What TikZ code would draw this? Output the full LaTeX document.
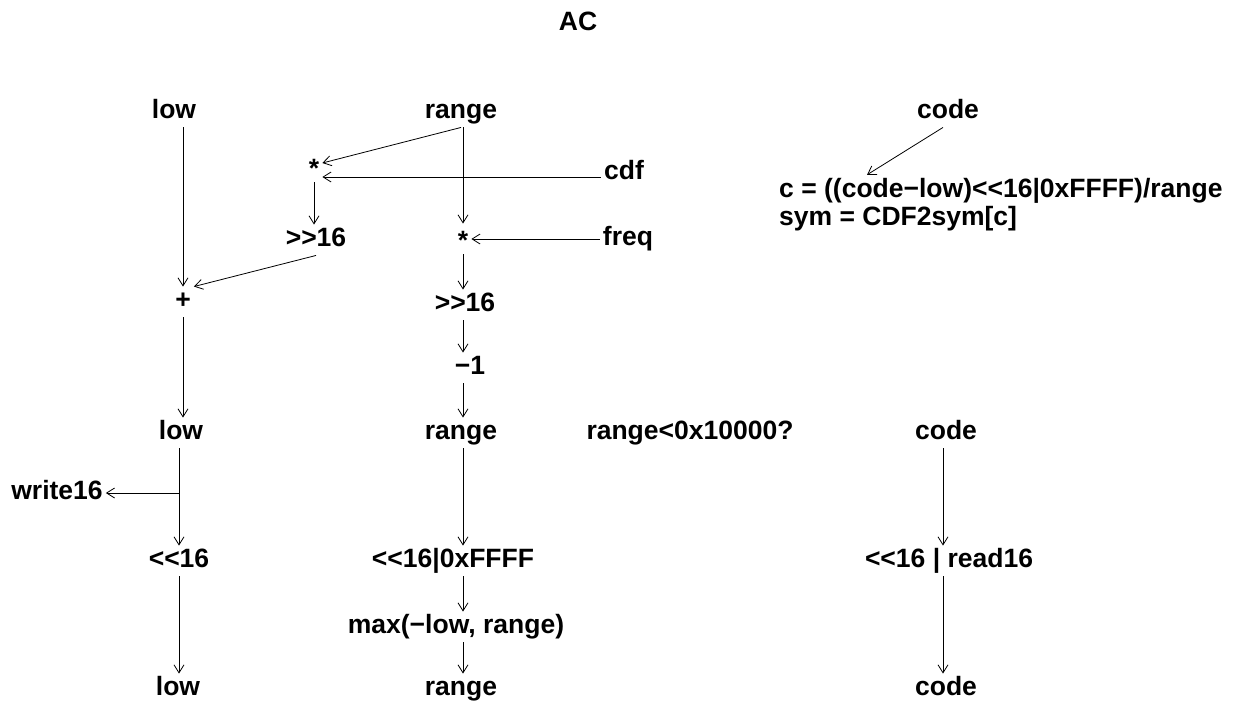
\documentclass[tikz,border=0pt]{standalone}
\usepackage{fontspec}
\setmainfont{Liberation Sans}
\usetikzlibrary{positioning}
\usetikzlibrary{calc}
\usetikzlibrary{arrows.meta}

\begin{document}
\begin{tikzpicture}[x=1pt, y=-1pt,
        lbl/.style={text centered, font=\fontsize{26.5}{30}\selectfont\bfseries, inner sep=3pt, text height=19pt, text depth=5.5pt},
        arr/.style={-{Straight Barb[length=8pt,width=10pt]}, line width=0.8}]
        \useasboundingbox (0,0) rectangle (1236,721);

        % nodes %
        \node[lbl] (ac) at (578,24) {AC};
        \node[lbl] (low1) at (174,112) {low};
        \node[lbl] (range1) at (461,112) {range};
        \node[lbl] (code1) at (948,112) {code};
        \node[lbl] (st1) at (314,167) {\raisebox{-0.13em}{*}};
        \node[lbl] (cdf) at (624,173) {cdf};
        \node[lbl, anchor=base west] (form1) at (776,197) {c = ((code−low)<\kern0pt<16|0xFFFF)/range};
        \node[lbl, anchor=base west] (form2) at (776,225) {sym = CDF2sym[c]};
        \node[lbl] (sh1) at (316,240) {>\kern0pt>16};
        \node[lbl] (st2) at (463,239) {\raisebox{-0.13em}{*}};
        \node[lbl] (freq) at (628,239) {freq};
        \node[lbl] (plus) at (183,302) {+};
        \node[lbl] (sh2) at (465,305) {>\kern0pt>16};
        \node[lbl] (m1) at (470,368) {−1};
        \node[lbl] (low2) at (181,433) {low};
        \node[lbl] (range2) at (461,433) {range};
        \node[lbl] (cond) at (690,433) {range<0x10000?};
        \node[lbl] (code2) at (946,433) {code};
        \node[lbl] (wr) at (57,493) {write16};
        \node[lbl] (sh3) at (179,561) {<\kern0pt<16};
        \node[lbl] (fill) at (453,561) {<\kern0pt<16|0xFFFF};
        \node[lbl] (rd) at (949,561) {<\kern0pt<16 | read16};
        \node[lbl] (mx) at (456,627) {max(−low, range)};
        \node[lbl] (low3) at (178,689) {low};
        \node[lbl] (range3) at (461,689) {range};
        \node[lbl] (code3) at (946,689) {code};

        % edges %
        \draw[arr] (low1.south -| plus) -- (plus.north);
        \draw[arr] (range1.south) -- ([yshift=4pt]st1.east);
        \draw[arr] ([yshift=-4pt]cdf.west) -- ([yshift=-4pt]cdf.west -| st1.east);
        \draw[arr] (st1.south) -- (st1.south |- sh1.north);
        \draw[arr] (sh1.south) -- (plus.north east);
        \draw[arr] (range1.south -| st2) -- (st2.north);
        \draw[arr] (freq.west) -- (freq.west -| st2.east);
        \draw[arr] (st2.south) -- (st2.south |- sh2.north);
        \draw[arr] (sh2.south -| st2) -- (m1.north -| st2);
        \draw[arr] (m1.south -| st2) -- (range2.north -| st2);
        \draw[arr] (plus.south) -- (plus.south |- low2.north);
        \draw[arr] (low2.south -| sh3) -- (sh3.north);
        \draw[arr] (sh3 |- wr.east) -- (wr.east);
        \draw[arr] (sh3.south) -- (low3.north -| sh3);
        \draw[arr] (range2.south -| st2) -- (fill.north -| st2);
        \draw[arr] (fill.south -| st2) -- (mx.north -| st2);
        \draw[arr] (mx.south -| st2) -- (range3.north -| st2);
        \draw[arr] ($(code1.south)+(-5,0)$) -- ($(form1.north west)+(91,0)$);
        \draw[arr] ($(code2.south)+(-3,0)$) -- ($(code2.south |- rd.north)+(-3,0)$);
        \draw[arr] ($(rd.south -| code2)+(-3,0)$) -- ($(code3.north)+(-3,0)$);
\end{tikzpicture}
\end{document}
